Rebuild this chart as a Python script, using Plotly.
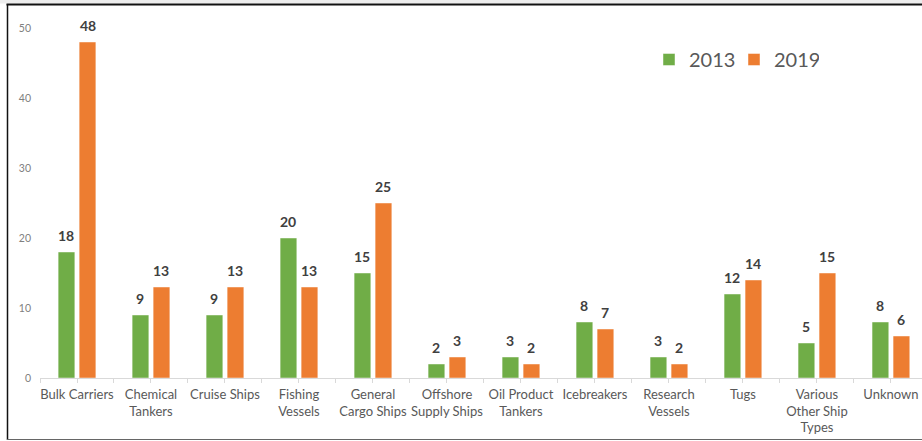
import plotly.graph_objects as go

# Ship types and counts per year
categories = [
    "Bulk Carriers", "Chemical<br>Tankers", "Cruise Ships", "Fishing<br>Vessels",
    "General<br>Cargo Ships", "Offshore<br>Supply Ships", "Oil Product<br>Tankers",
    "Icebreakers", "Research<br>Vessels", "Tugs", "Various<br>Other Ship<br>Types",
    "Unknown",
]
values_2013 = [18, 9, 9, 20, 15, 2, 3, 8, 3, 12, 5, 8]
values_2019 = [48, 13, 13, 13, 25, 3, 2, 7, 2, 14, 15, 6]
series_names = ["2013", "2019"]
y_ticks = [0, 10, 20, 30, 40, 50]

colors = ["#70AD47", "#ED7D31"]
FONT = "Lato"

W, H = 922, 441
ML, MR, MT, MB = 40, 0, 28, 63
x_range = [-0.5, 11.42]
bargap, bargroupgap = 0.432, 0.205

idx = list(range(len(categories)))
fig = go.Figure()
for name, vals, col in zip(series_names, [values_2013, values_2019], colors):
    fig.add_trace(go.Bar(
        x=idx, y=vals, name=name,
        marker=dict(color=col, line=dict(color="rgba(255,255,255,0.45)", width=1)),
        hoverinfo="x+y",
    ))

# value labels above each bar
plot_w = W - ML - MR
px_per_unit = plot_w / (x_range[1] - x_range[0])
slot_px = (1 - bargap) / 2 * px_per_unit
annotations = []
for j, vals in enumerate([values_2013, values_2019]):
    for i, v in zip(idx, vals):
        annotations.append(dict(
            x=i, y=v, xref="x", yref="y", text=f"<b>{v}</b>",
            showarrow=False, yanchor="bottom", xshift=(j - 0.5) * slot_px, yshift=6,
            font=dict(family=FONT, size=14, color="#404040"),
        ))

# outer frame
plot_h = H - MT - MB
def px_x(px):
    return (px - ML) / plot_w
def px_y(py):
    return (H - MB - py) / plot_h

shapes = [
    dict(type="rect", xref="paper", yref="paper", x0=px_x(0), x1=px_x(W), y0=px_y(0), y1=px_y(3.5),
         fillcolor="#ededed", line=dict(width=0), layer="below"),
    dict(type="line", xref="paper", yref="paper", x0=px_x(6.5), x1=px_x(W), y0=px_y(4.5), y1=px_y(4.5),
         line=dict(color="#111111", width=2)),
    dict(type="line", xref="paper", yref="paper", x0=px_x(7.5), x1=px_x(7.5), y0=px_y(4), y1=px_y(440),
         line=dict(color="#111111", width=1.5)),
    dict(type="line", xref="paper", yref="paper", x0=px_x(7), x1=px_x(W), y0=px_y(439.5), y1=px_y(439.5),
         line=dict(color="#666666", width=1)),
]

fig.update_layout(
    width=W, height=H,
    margin=dict(l=ML, r=MR, t=MT, b=MB),
    paper_bgcolor="white", plot_bgcolor="white",
    barmode="group", bargap=bargap, bargroupgap=bargroupgap,
    font=dict(family=FONT, color="#595959"),
    legend=dict(orientation="h", x=px_x(649), y=px_y(40), xanchor="left", yanchor="top",
                font=dict(family=FONT, size=20, color="#595959"), itemwidth=30,
                entrywidth=40, bgcolor="rgba(0,0,0,0)"),
    annotations=annotations,
    shapes=shapes,
    xaxis=dict(
        range=x_range, tickvals=idx, ticktext=categories,
        showline=True, linecolor="#d9d9d9", linewidth=1,
        ticks="outside", ticklen=4, tickcolor="#d9d9d9",
        minor=dict(tickvals=[i - 0.5 for i in idx] + [len(idx) - 0.5], ticks="outside",
                   ticklen=4, tickcolor="#d9d9d9"),
        showgrid=False, zeroline=False, tickangle=0,
        tickfont=dict(family=FONT, size=13, color="#595959"),
    ),
    yaxis=dict(
        range=[0, 50], tickvals=y_ticks, showgrid=False, zeroline=False, showline=False,
        ticks="", ticklabelstandoff=8,
        tickfont=dict(family=FONT, size=10.5, color="#808080"),
    ),
)

fig.write_html("out.html")
